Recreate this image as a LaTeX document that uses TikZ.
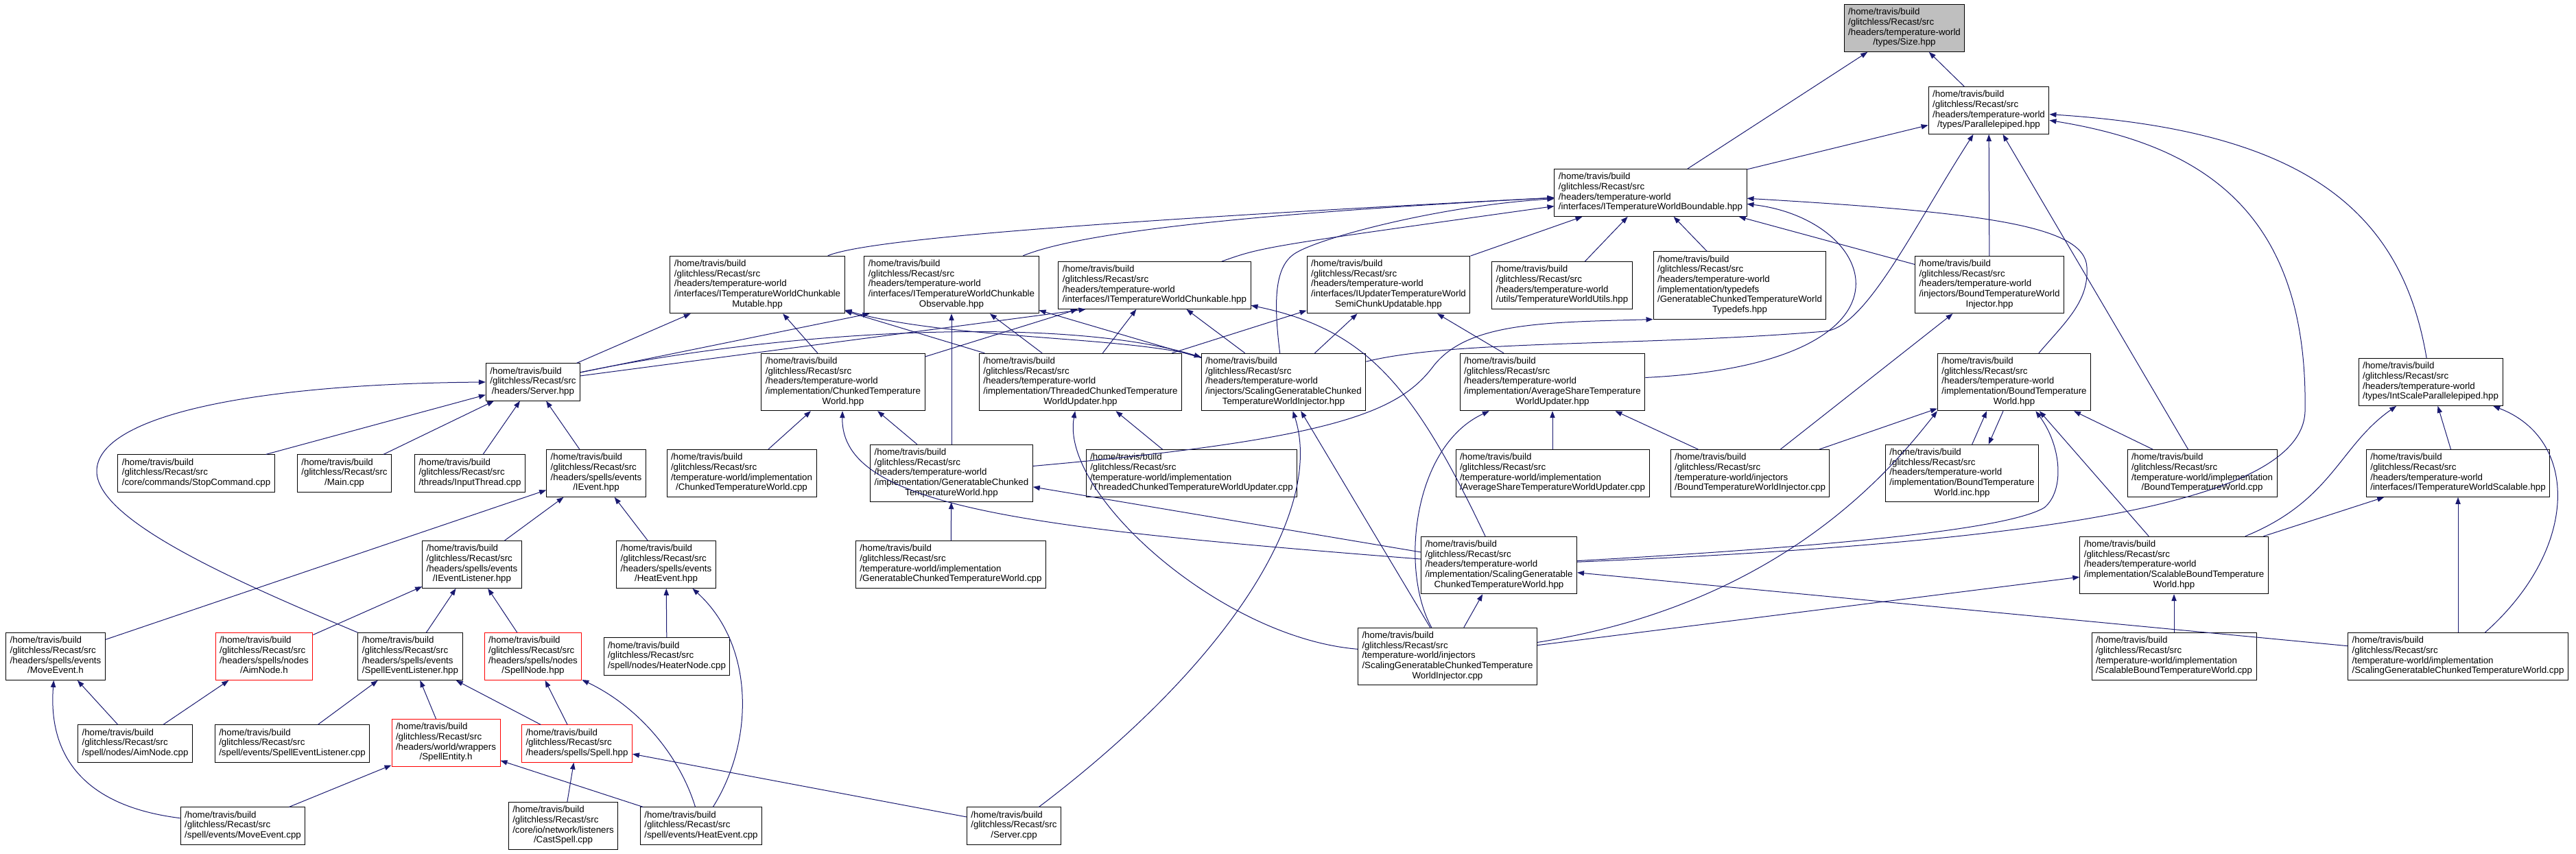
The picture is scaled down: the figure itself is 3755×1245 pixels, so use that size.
\documentclass[tikz,border=0pt]{standalone}
\usepackage{fontspec}
\setmainfont{Liberation Sans}
\usetikzlibrary{arrows.meta}
\definecolor{bleunuit}{HTML}{191970}
\newcommand{\rc}{/home/travis/build\\/glitchless/Recast/src}
\newcommand{\fic}[2]{\begin{tabular}{@{}l@{}}#1\\\multicolumn{1}{@{}c@{}}{#2}\end{tabular}}

\begin{document}
\begin{tikzpicture}[x=0.75pt,y=-0.75pt,
  fichier/.style={draw=black,line width=0.75pt,fill=white,inner xsep=4.5pt,inner ysep=3.8pt,font=\fontsize{10}{11}\selectfont},
  tronque/.style={fichier,draw=red},
  racine/.style={fichier,fill=black!25},
  inclus/.style={draw=bleunuit,line width=0.75pt,-{Triangle[length=7.5pt,width=5.5pt]}}]

\useasboundingbox (0,0) rectangle (3755,1245);

% Fichiers du haut
\node[racine] (size) at (2776,41) {\fic{\rc\\/headers/temperature-world}{/types/Size.hpp}};
\node[fichier] (para) at (2899,161) {\fic{\rc\\/headers/temperature-world}{/types/Parallelepiped.hpp}};
\node[fichier] (bound) at (2406,281) {\fic{\rc\\/headers/temperature-world}{/interfaces/ITemperatureWorldBoundable.hpp}};

% Interfaces
\node[fichier] (mutable) at (1104,415) {\fic{\rc\\/headers/temperature-world\\/interfaces/ITemperatureWorldChunkable}{Mutable.hpp}};
\node[fichier] (observ) at (1387,415) {\fic{\rc\\/headers/temperature-world\\/interfaces/ITemperatureWorldChunkable}{Observable.hpp}};
\node[fichier] (chunkable) at (1683,416) {\fic{\rc\\/headers/temperature-world}{/interfaces/ITemperatureWorldChunkable.hpp}};
\node[fichier] (semichunk) at (2024,415) {\fic{\rc\\/headers/temperature-world\\/interfaces/IUpdaterTemperatureWorld}{SemiChunkUpdatable.hpp}};
\node[fichier] (utils) at (2277,416) {\fic{\rc\\/headers/temperature-world}{/utils/TemperatureWorldUtils.hpp}};
\node[fichier] (typedefs) at (2536,416) {\fic{\rc\\/headers/temperature-world\\/implementation/typedefs\\/GeneratableChunkedTemperatureWorld}{Typedefs.hpp}};
\node[fichier] (boundinj) at (2900,415) {\fic{\rc\\/headers/temperature-world\\/injectors/BoundTemperatureWorld}{Injector.hpp}};

% Implementations
\node[fichier] (server) at (777,557) {\fic{\rc}{/headers/Server.hpp}};
\node[fichier] (chunkedw) at (1229,557) {\fic{\rc\\/headers/temperature-world\\/implementation/ChunkedTemperature}{World.hpp}};
\node[fichier] (threaded) at (1575,557) {\fic{\rc\\/headers/temperature-world\\/implementation/ThreadedChunkedTemperature}{WorldUpdater.hpp}};
\node[fichier] (scalinginj) at (1871,557) {\fic{\rc\\/headers/temperature-world\\/injectors/ScalingGeneratableChunked}{TemperatureWorldInjector.hpp}};
\node[fichier] (avgshare) at (2263,557) {\fic{\rc\\/headers/temperature-world\\/implementation/AverageShareTemperature}{WorldUpdater.hpp}};
\node[fichier] (boundw) at (2936,557) {\fic{\rc\\/headers/temperature-world\\/implementation/BoundTemperature}{World.hpp}};
\node[fichier] (intscale) at (3543,557) {\fic{\rc\\/headers/temperature-world}{/types/IntScaleParallelepiped.hpp}};

\node[fichier] (stopcmd) at (286,690) {\fic{\rc}{/core/commands/StopCommand.cpp}};
\node[fichier] (main) at (502,690) {\fic{\rc}{/Main.cpp}};
\node[fichier] (input) at (685,690) {\fic{\rc}{/threads/InputThread.cpp}};
\node[fichier] (ievent) at (869,690) {\fic{\rc\\/headers/spells/events}{/IEvent.hpp}};
\node[fichier] (chunkedcpp) at (1081,690) {\fic{\rc\\/temperature-world/implementation}{/ChunkedTemperatureWorld.cpp}};
\node[fichier] (genchunked) at (1387,690) {\fic{\rc\\/headers/temperature-world\\/implementation/GeneratableChunked}{TemperatureWorld.hpp}};
\node[fichier] (threadedcpp) at (1737,690) {\fic{\rc\\/temperature-world/implementation}{/ThreadedChunkedTemperatureWorldUpdater.cpp}};
\node[fichier] (avgsharecpp) at (2263,690) {\fic{\rc\\/temperature-world/implementation}{/AverageShareTemperatureWorldUpdater.cpp}};
\node[fichier] (boundinjcpp) at (2551,690) {\fic{\rc\\/temperature-world/injectors}{/BoundTemperatureWorldInjector.cpp}};
\node[fichier] (boundinc) at (2860,690) {\fic{\rc\\/headers/temperature-world\\/implementation/BoundTemperature}{World.inc.hpp}};
\node[fichier] (boundcpp) at (3210,690) {\fic{\rc\\/temperature-world/implementation}{/BoundTemperatureWorld.cpp}};
\node[fichier] (scalable) at (3583,690) {\fic{\rc\\/headers/temperature-world}{/interfaces/ITemperatureWorldScalable.hpp}};

\node[fichier] (ieventlis) at (688,823) {\fic{\rc\\/headers/spells/events}{/IEventListener.hpp}};
\node[fichier] (heatevent) at (971,823) {\fic{\rc\\/headers/spells/events}{/HeatEvent.hpp}};
\node[fichier] (gencpp) at (1386,823) {\fic{\rc\\/temperature-world/implementation}{/GeneratableChunkedTemperatureWorld.cpp}};
\node[fichier] (scalinghpp) at (2185,824) {\fic{\rc\\/headers/temperature-world\\/implementation/ScalingGeneratable}{ChunkedTemperatureWorld.hpp}};
\node[fichier] (scalablebw) at (3169,824) {\fic{\rc\\/headers/temperature-world\\/implementation/ScalableBoundTemperature}{World.hpp}};

% Sorts et evenements
\node[fichier] (moveevh) at (81,957) {\fic{\rc\\/headers/spells/events}{/MoveEvent.h}};
\node[tronque] (aimnode) at (385,957) {\fic{\rc\\/headers/spells/nodes}{/AimNode.h}};
\node[fichier] (spelllis) at (598,957) {\fic{\rc\\/headers/spells/events}{/SpellEventListener.hpp}};
\node[tronque] (spellnode) at (777,957) {\fic{\rc\\/headers/spells/nodes}{/SpellNode.hpp}};
\node[fichier] (heaternode) at (972,957) {\fic{\rc}{/spell/nodes/HeaterNode.cpp}};
\node[fichier] (scalinginjcpp) at (2110,957) {\fic{\rc\\/temperature-world/injectors\\/ScalingGeneratableChunkedTemperature}{WorldInjector.cpp}};
\node[fichier] (scalablecpp) at (3169,957) {\fic{\rc\\/temperature-world/implementation}{/ScalableBoundTemperatureWorld.cpp}};
\node[fichier] (scalingcpp) at (3583,957) {\fic{\rc\\/temperature-world/implementation}{/ScalingGeneratableChunkedTemperatureWorld.cpp}};

\node[fichier] (aimcpp) at (197,1084) {\fic{\rc}{/spell/nodes/AimNode.cpp}};
\node[fichier] (spelliscpp) at (426,1084) {\fic{\rc}{/spell/events/SpellEventListener.cpp}};
\node[tronque] (spellentity) at (650,1083) {\fic{\rc\\/headers/world/wrappers}{/SpellEntity.h}};
\node[tronque] (spellhpp) at (841,1084) {\fic{\rc}{/headers/spells/Spell.hpp}};

\node[fichier] (moveevcpp) at (354,1204) {\fic{\rc}{/spell/events/MoveEvent.cpp}};
\node[fichier] (castspell) at (821,1204) {\fic{\rc\\/core/io/network/listeners}{/CastSpell.cpp}};
\node[fichier] (heatcpp) at (1022,1204) {\fic{\rc}{/spell/events/HeatEvent.cpp}};
\node[fichier] (servercpp) at (1478,1204) {\fic{\rc}{/Server.cpp}};

% Vers Size.hpp et Parallelepiped.hpp
\draw[inclus] (bound) -- (size);
\draw[inclus] (para) -- (size);
\draw[inclus] (bound) -- (para);
\draw[inclus] (scalinginj) .. controls (2120,495) and (2400,505) .. (2660,483) .. controls (2720,478) and (2790,330) .. (para);
\draw[inclus] (boundinj) -- (para);
\draw[inclus] (boundcpp) -- (para);
\draw[inclus] (scalinghpp) .. controls (3000,790) and (3355,730) .. (3360,600) .. controls (3365,300) and (3200,210) .. (para);
\draw[inclus] (intscale) .. controls (3500,300) and (3350,190) .. (para);

% Vers ITemperatureWorldBoundable.hpp
\draw[inclus] (mutable) .. controls (1250,355) and (1450,330) .. (bound);
\draw[inclus] (observ) .. controls (1560,345) and (1750,315) .. (bound);
\draw[inclus] (chunkable) .. controls (1840,360) .. (bound);
\draw[inclus] (scalinginj) .. controls (1855,430) and (1860,385) .. (1890,368) .. controls (1930,345) and (2100,300) .. (bound);
\draw[inclus] (semichunk) -- (bound);
\draw[inclus] (utils) -- (bound);
\draw[inclus] (typedefs) -- (bound);
\draw[inclus] (boundinj) -- (bound);
\draw[inclus] (boundw) .. controls (3010,470) and (3045,440) .. (3042,390) .. controls (3040,330) and (2900,310) .. (bound);
\draw[inclus] (avgshare) .. controls (2820,530) and (2740,320) .. (bound);

% Vers les interfaces
\draw[inclus] (server) -- (mutable);
\draw[inclus] (chunkedw) -- (mutable);
\draw[inclus] (threaded) -- (mutable);
\draw[inclus] (scalinginj) .. controls (1650,490) and (1380,495) .. (mutable);
\draw[inclus] (server) -- ([xshift=6pt]observ.south west);
\draw[inclus] (genchunked) -- (observ);
\draw[inclus] (threaded) -- (observ);
\draw[inclus] (scalinginj) -- (observ);
\draw[inclus] (server) -- ([xshift=30pt]chunkable.south west);
\draw[inclus] (chunkedw) -- (chunkable);
\draw[inclus] (threaded) -- (chunkable);
\draw[inclus] (scalinginj) -- (chunkable);
\draw[inclus] (scalinghpp) .. controls (2060,560) and (1990,480) .. (chunkable);
\draw[inclus] (threaded) -- (semichunk);
\draw[inclus] (scalinginj) -- (semichunk);
\draw[inclus] (avgshare) -- (semichunk);
\draw[inclus] (genchunked) .. controls (1950,640) and (2040,600) .. (2090,533) .. controls (2140,470) and (2250,470) .. (typedefs.south west);
\draw[inclus] (boundinjcpp) -- (boundinj);

% Vers Server.hpp
\draw[inclus] (spelllis.north west) .. controls (350,850) and (141,760) .. (141,687) .. controls (141,610) and (350,560) .. (server.west);
\draw[inclus] (stopcmd) -- (server);
\draw[inclus] (main) -- (server);
\draw[inclus] (input) -- (server);
\draw[inclus] (ievent) -- (server);
\draw[inclus] (server) .. controls (1150,480) and (1550,460) .. (scalinginj);

% Vers les implementations
\draw[inclus] (chunkedcpp) -- (chunkedw);
\draw[inclus] (genchunked) -- (chunkedw);
\draw[inclus] (scalinghpp) .. controls (1500,770) and (1225,740) .. (chunkedw);
\draw[inclus] (threadedcpp) -- (threaded);
\draw[inclus] (scalinginjcpp) .. controls (1780,930) and (1545,720) .. (threaded);
\draw[inclus] (servercpp) .. controls (1800,960) and (1930,740) .. (scalinginj);
\draw[inclus] (scalinginjcpp) -- (scalinginj);
\draw[inclus] (avgsharecpp) -- (avgshare);
\draw[inclus] (boundinjcpp) -- (avgshare);
\draw[inclus] (scalinginjcpp) .. controls (2040,830) and (2060,650) .. (avgshare);
\draw[inclus] ([xshift=11pt]boundinc.north) -- ([xshift=-30pt]boundw.south);
\draw[inclus] ([xshift=-12pt]boundw.south) -- ([xshift=29pt]boundinc.north);
\draw[inclus] (scalinghpp) .. controls (2700,795) and (2930,770) .. (2980,740) .. controls (3010,715) and (3005,650) .. (boundw);
\draw[inclus] (scalablebw) -- (boundw);
\draw[inclus] (boundcpp) -- (boundw);
\draw[inclus] (boundinjcpp) -- (boundw);
\draw[inclus] (scalinginjcpp) .. controls (2600,880) and (2760,680) .. (boundw.south west);
\draw[inclus] (scalablebw) .. controls (3400,730) and (3410,650) .. (intscale);
\draw[inclus] (scalable) -- (intscale);
\draw[inclus] (scalingcpp) .. controls (3760,800) and (3760,640) .. (intscale);
\draw[inclus] (gencpp) -- (genchunked);
\draw[inclus] (scalinghpp) -- (genchunked);
\draw[inclus] (scalablebw) -- (scalable);
\draw[inclus] (scalingcpp) -- (scalable);
\draw[inclus] (scalinginjcpp) -- (scalinghpp);
\draw[inclus] (scalingcpp) -- (scalinghpp);
\draw[inclus] (scalinginjcpp) -- (scalablebw);
\draw[inclus] (scalablecpp) -- (scalablebw);

% Vers les evenements
\draw[inclus] (moveevh) -- (ievent);
\draw[inclus] (ieventlis) -- (ievent);
\draw[inclus] (heatevent) -- (ievent);
\draw[inclus] (aimnode) -- (ieventlis);
\draw[inclus] (spelllis) -- (ieventlis);
\draw[inclus] (spellnode) -- (ieventlis);
\draw[inclus] (heaternode) -- (heatevent);
\draw[inclus] (heatcpp) .. controls (1100,1080) and (1100,940) .. (heatevent);
\draw[inclus] (moveevcpp) .. controls (120,1175) and (70,1100) .. (moveevh);
\draw[inclus] (aimcpp) -- (moveevh);
\draw[inclus] (aimcpp) -- (aimnode);
\draw[inclus] (spelliscpp) -- (spelllis);
\draw[inclus] (spellentity) -- (spelllis);
\draw[inclus] (spellhpp) -- (spelllis);
\draw[inclus] (spellhpp) -- (spellnode);
\draw[inclus] (heatcpp) .. controls (990,1100) and (930,1030) .. (spellnode);
\draw[inclus] (moveevcpp) -- (spellentity);
\draw[inclus] (heatcpp) -- (spellentity);
\draw[inclus] (castspell) -- (spellhpp);
\draw[inclus] (servercpp) -- (spellhpp);

\end{tikzpicture}
\end{document}
